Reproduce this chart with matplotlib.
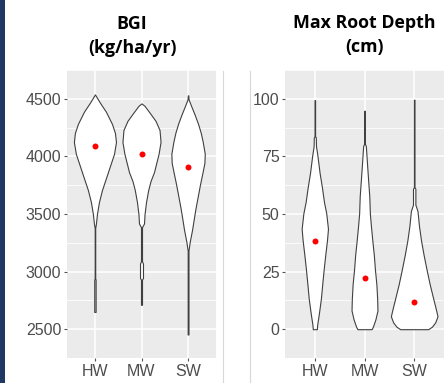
import numpy as np
import matplotlib
import matplotlib.pyplot as plt
from matplotlib.lines import Line2D
from matplotlib.patches import Rectangle

# groups
groups = ['HW', 'MW', 'SW']

# BGI (kg/ha/yr): violin outlines (value, half width in category units)
bgi_hw_y = [4538, 4466, 4387, 4282, 4204, 4125, 4021, 3917, 3812, 3708, 3603, 3498, 3418, 3379, 2940, 2930, 2650]
bgi_hw_w = [0.0, 0.108, 0.237, 0.366, 0.430, 0.452, 0.409, 0.323, 0.237, 0.151, 0.086, 0.043, 0.022, 0.006, 0.006, 0.015, 0.015]
bgi_mw_y = [4460, 4439, 4387, 4309, 4230, 4125, 4021, 3917, 3864, 3786, 3708, 3603, 3498, 3418, 3386, 3090, 3070, 2945, 2930, 2712]
bgi_mw_w = [0.0, 0.065, 0.161, 0.301, 0.387, 0.409, 0.366, 0.301, 0.269, 0.194, 0.144, 0.097, 0.065, 0.054, 0.011, 0.011, 0.032, 0.032, 0.011, 0.011]
bgi_sw_y = [4530, 4495, 4439, 4360, 4282, 4204, 4125, 4021, 3943, 3864, 3760, 3655, 3551, 3473, 3363, 3261, 3183, 2454]
bgi_sw_w = [0.004, 0.011, 0.065, 0.144, 0.215, 0.273, 0.316, 0.359, 0.351, 0.312, 0.258, 0.209, 0.161, 0.129, 0.086, 0.037, 0.009, 0.009]
bgi_means = [4088, 4017, 3911]

# Max root depth (cm)
root_hw_y = [99.4, 83.8, 83.2, 79.4, 75.6, 67.9, 61.6, 55.3, 50.2, 47.4, 43.6, 38.6, 32.2, 25.9, 19.5, 13.2, 6.8, 1.8, 0]
root_hw_w = [0.006, 0.006, 0.020, 0.024, 0.051, 0.096, 0.143, 0.184, 0.231, 0.245, 0.265, 0.245, 0.210, 0.178, 0.149, 0.122, 0.082, 0.047, 0.041]
root_mw_y = [94.8, 80.6, 79.5, 73, 65.4, 57.8, 50.2, 44.9, 38.6, 32.2, 25.9, 19.5, 13.2, 8.1, 4.3, 1.1, 0]
root_mw_w = [0.006, 0.006, 0.027, 0.047, 0.071, 0.096, 0.108, 0.129, 0.157, 0.188, 0.210, 0.239, 0.255, 0.261, 0.220, 0.169, 0.143]
root_sw_y = [99.6, 61.6, 61.0, 54, 53, 51.2, 44.9, 38.6, 32.2, 25.9, 19.5, 13.2, 8.1, 5.6, 3.0, 1.1, 0]
root_sw_w = [0.006, 0.006, 0.024, 0.024, 0.041, 0.067, 0.096, 0.137, 0.190, 0.249, 0.312, 0.384, 0.443, 0.469, 0.424, 0.357, 0.282]
root_means = [38.4, 22.4, 11.8]

bgi_ticks = [2500, 3000, 3500, 4000, 4500]
root_ticks = [0, 25, 50, 75, 100]

plt.rcParams['font.family'] = 'Liberation Sans'

fig = plt.figure(figsize=(4.48, 3.83), dpi=100)
ax1 = fig.add_axes([67/448, 1 - 358/383, 149/448, 288/383])
ax2 = fig.add_axes([285/448, 1 - 358/383, 159/448, 288/383])


def style(ax, ticks, ylim):
    ax.set_facecolor('#EBEBEB')
    ax.set_xlim(0.4, 3.6)
    ax.set_ylim(*ylim)
    ax.set_xticks(range(1, 4))
    ax.set_xticklabels(groups)
    ax.set_yticks(ticks)
    minor = [(a + b) / 2 for a, b in zip(ticks[:-1], ticks[1:])]
    minor = [ticks[0] - (ticks[1] - ticks[0]) / 2] + minor + [ticks[-1] + (ticks[1] - ticks[0]) / 2]
    ax.set_yticks(minor, minor=True)
    ax.grid(True, which='major', color='white', lw=1.1)
    ax.grid(True, which='minor', axis='y', color='white', lw=0.55)
    ax.tick_params(which='minor', length=0)
    ax.tick_params(which='major', length=2.5, width=0.8, color='#555555',
                   labelcolor='#4D4D4D', labelsize=11.5, pad=1.5)
    ax.set_axisbelow(True)
    for s in ax.spines.values():
        s.set_visible(False)


def violin(ax, pos, y, w):
    y = np.array(y)
    w = np.array(w)
    ax.fill_betweenx(y, pos - w, pos + w, facecolor='white',
                     edgecolor='#404040', lw=0.8, zorder=3)


style(ax1, bgi_ticks, (2358, 4625))
style(ax2, root_ticks, (-5.0, 104.5))

violin(ax1, 1, bgi_hw_y, bgi_hw_w)
violin(ax1, 2, bgi_mw_y, bgi_mw_w)
violin(ax1, 3, bgi_sw_y, bgi_sw_w)
ax1.plot([1, 2, 3], bgi_means, 'o', color='red', ms=4.3, mec='none', zorder=4)

violin(ax2, 1, root_hw_y, root_hw_w)
violin(ax2, 2, root_mw_y, root_mw_w)
violin(ax2, 3, root_sw_y, root_sw_w)
ax2.plot([1, 2, 3], root_means, 'o', color='red', ms=4.3, mec='none', zorder=4)

# titles
fig.text(132/448, 1 - 36/383, 'BGI\n(kg/ha/yr)', ha='center', va='center',
         family='Open Sans', weight='bold', fontsize=12.8, linespacing=1.4)
fig.text(364/448, 1 - 35/383, 'Max Root Depth\n(cm)', ha='center', va='center',
         family='Open Sans', weight='bold', fontsize=12.8, linespacing=1.4)

# panel edge lines and left bar
for x in (223, 250):
    fig.add_artist(Line2D([x/448, x/448], [0, 1 - 71/383], color='#D8D8D8', lw=0.8))
fig.add_artist(Rectangle((0, 0), 4.5/448, 1, color='#1F3864', lw=0))

plt.savefig('out.png', dpi=100)
